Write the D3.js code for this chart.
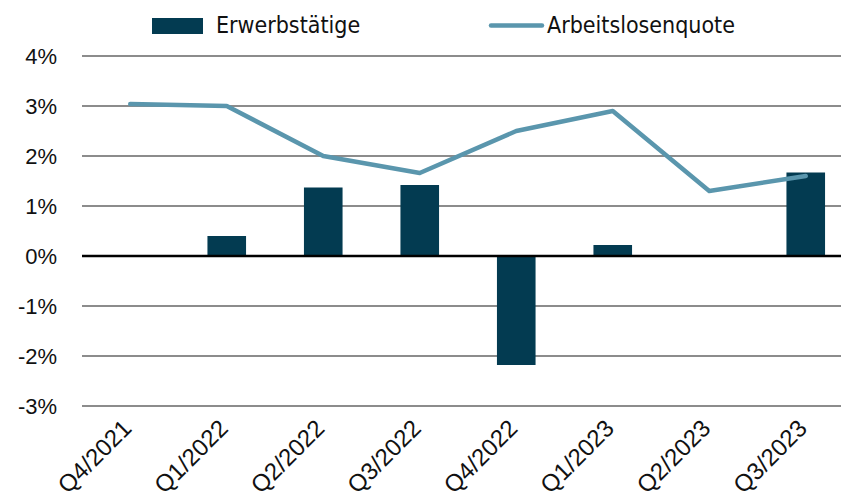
<!DOCTYPE html>
<html>
<head>
<meta charset="utf-8">
<script src="https://cdn.jsdelivr.net/npm/d3@7"></script>
<style>
  body { margin: 0; background: #fff; }
  svg { display: block; }
  .tick text { font-family: "Liberation Sans", Arial, sans-serif; fill: #111; }
  .legend text { font-family: "Liberation Sans Narrow", "DejaVu Sans Condensed", sans-serif; }
</style>
</head>
<body>
<svg class="chart"></svg>
<script>
const quarters = ["Q4/2021", "Q1/2022", "Q2/2022", "Q3/2022", "Q4/2022", "Q1/2023", "Q2/2023", "Q3/2023"];
const erwerbstaetige = [0.02, 0.4, 1.37, 1.42, -2.18, 0.22, 0.0, 1.67];
const arbeitslosenquote = [3.04, 3.0, 2.0, 1.66, 2.5, 2.9, 1.3, 1.6];
const yTicks = [-3, -2, -1, 0, 1, 2, 3, 4];

const width = 841;
const height = 495;
const barColor = "#033b51";
const lineColor = "#5a96ad";

const svg = d3.select(".chart")
  .attr("width", width)
  .attr("height", height);

const x = d3.scaleBand()
  .domain(quarters)
  .range([82, 854])
  .paddingInner(0.6)
  .paddingOuter(0.3);

const y = d3.scaleLinear()
  .domain([-3, 4])
  .range([406, 56]);

// grid
svg.append("g")
  .selectAll("line")
  .data(yTicks.filter(d => d !== 0))
  .join("line")
  .attr("x1", 82)
  .attr("x2", width)
  .attr("y1", d => y(d))
  .attr("y2", d => y(d))
  .attr("stroke", "#8c8c8c")
  .attr("stroke-width", 2);

// y axis labels
const yAxis = svg.append("g")
  .attr("transform", "translate(57,0)")
  .call(d3.axisLeft(y).tickValues(yTicks).tickSize(0).tickPadding(0)
    .tickFormat(d => (d < 0 ? "-" + Math.abs(d) : d) + "%"));
yAxis.select(".domain").remove();
yAxis.selectAll("text").attr("font-size", 22);

// bars
svg.append("g")
  .selectAll("rect")
  .data(erwerbstaetige)
  .join("rect")
  .attr("x", (d, i) => x(quarters[i]))
  .attr("width", x.bandwidth())
  .attr("y", d => y(Math.max(0, d)))
  .attr("height", d => Math.abs(y(d) - y(0)))
  .attr("fill", barColor);

// zero line
svg.append("line")
  .attr("x1", 82)
  .attr("x2", width)
  .attr("y1", y(0))
  .attr("y2", y(0))
  .attr("stroke", "#000")
  .attr("stroke-width", 2.5);

// line
const line = d3.line()
  .x((d, i) => x(quarters[i]) + x.bandwidth() / 2)
  .y(d => y(d));

svg.append("path")
  .datum(arbeitslosenquote)
  .attr("fill", "none")
  .attr("stroke", lineColor)
  .attr("stroke-width", 4.5)
  .attr("stroke-linecap", "round")
  .attr("stroke-linejoin", "round")
  .attr("d", line);

// x axis labels
const xAxis = svg.append("g")
  .attr("transform", "translate(0,421)")
  .call(d3.axisBottom(x).tickSize(0).tickPadding(0));
xAxis.select(".domain").remove();
xAxis.selectAll("text")
  .attr("font-size", 24)
  .attr("text-anchor", "end")
  .attr("dy", "0.75em")
  .attr("transform", "translate(-10,-4) rotate(-45)");

// legend
const legend = svg.append("g").attr("class", "legend");
legend.append("rect")
  .attr("x", 152).attr("y", 18)
  .attr("width", 51).attr("height", 16)
  .attr("fill", barColor);
legend.append("text")
  .attr("x", 216).attr("y", 33)
  .attr("font-size", 23)
  .attr("fill", "#111")
  .text("Erwerbstätige");
legend.append("line")
  .attr("x1", 491).attr("x2", 542)
  .attr("y1", 25.5).attr("y2", 25.5)
  .attr("stroke", lineColor)
  .attr("stroke-width", 4.5)
  .attr("stroke-linecap", "round");
legend.append("text")
  .attr("x", 547).attr("y", 33)
  .attr("font-size", 23)
  .attr("fill", "#111")
  .text("Arbeitslosenquote");
</script>
</body>
</html>
